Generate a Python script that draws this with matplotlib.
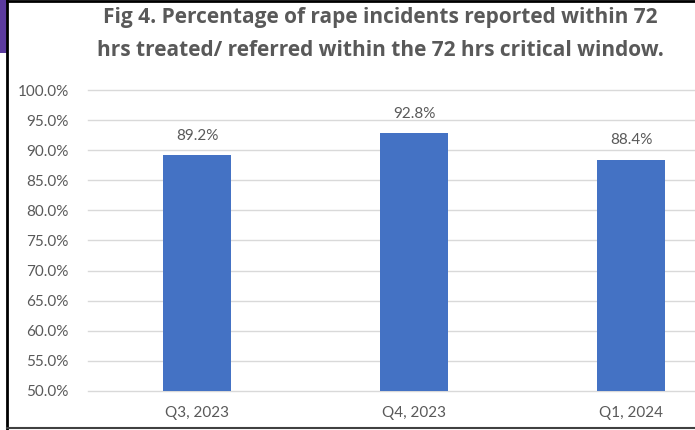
import matplotlib.pyplot as plt
from matplotlib.patches import Rectangle
from matplotlib.lines import Line2D
from matplotlib.ticker import FuncFormatter

quarters = ['Q3, 2023', 'Q4, 2023', 'Q1, 2024']
percent_treated = [89.2, 92.8, 88.4]
y_ticks = [50, 55, 60, 65, 70, 75, 80, 85, 90, 95, 100]

TEXT = '#595959'
plt.rcParams['font.family'] = ['Lato', 'DejaVu Sans']

fig = plt.figure(figsize=(6.95, 4.30), dpi=100)
ax = fig.add_axes([88 / 695, 1 - 391 / 430, 1 - 88 / 695, 301 / 430])

x = range(len(quarters))
bars = ax.bar(x, percent_treated, width=0.31, color='#4472C4', zorder=3)
for b, v in zip(bars, percent_treated):
    ax.annotate(f'{v:.1f}%', (b.get_x() + b.get_width() / 2, v),
                xytext=(0, 9), textcoords='offset points',
                ha='center', va='bottom', fontsize=11, color=TEXT)

ax.set_ylim(50, 100)
ax.set_xlim(-0.502, 2.295)
ax.set_yticks(y_ticks)
ax.yaxis.set_major_formatter(FuncFormatter(lambda v, p: f'{v:.1f}%'))
ax.set_xticks(list(x))
ax.set_xticklabels(quarters)
ax.tick_params(axis='y', length=0, pad=14, labelsize=11, labelcolor=TEXT)
ax.tick_params(axis='x', length=0, pad=11, labelsize=11, labelcolor=TEXT)
ax.grid(axis='y', color='#D9D9D9', linewidth=1, zorder=0, clip_on=False)
for s in ax.spines.values():
    s.set_visible(False)

title_font = dict(ha='center', va='center', fontsize=15, fontweight='bold',
                  color=TEXT, family=['Open Sans', 'DejaVu Sans'])
fig.text(0.547, 1 - 18 / 430,
         'Fig 4. Percentage of rape incidents reported within 72', **title_font)
fig.text(0.547, 1 - 50 / 430,
         'hrs treated/ referred within the 72 hrs critical window.', **title_font)

# frame from the screenshot
fig.add_artist(Line2D([7 / 695, 7 / 695], [0, 1], color='black', lw=2))
fig.add_artist(Line2D([7 / 695, 1], [1 - 1 / 430, 1 - 1 / 430], color='black', lw=2))
fig.add_artist(Line2D([7 / 695, 1], [2 / 430, 2 / 430], color='#404040', lw=1.5))
fig.add_artist(Rectangle((0, 1 - 53 / 430), 7 / 695, 53 / 430,
                         transform=fig.transFigure, color='#5B3A9E', lw=0))

fig.savefig('out.png', dpi=100)
